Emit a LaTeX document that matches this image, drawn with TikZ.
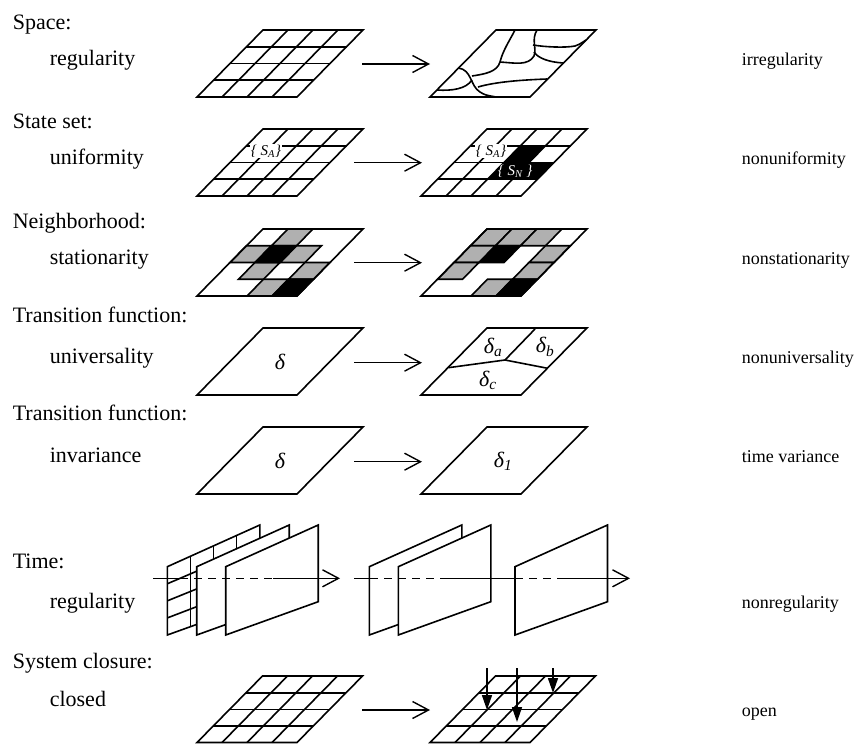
\documentclass[tikz,border=0pt]{standalone}
\usepackage{fontspec}
\setmainfont{Liberation Serif}
\usetikzlibrary{positioning,arrows.meta,calc}

\begin{document}
\begin{tikzpicture}[x=1pt, y=-1pt, line width=1.6pt,
  font=\fontsize{22}{26}\selectfont,
  title/.style={anchor=base west, inner sep=0pt},
  prop/.style={anchor=base west, inner sep=0pt},
  res/.style={anchor=base west, inner sep=0pt, font=\fontsize{18}{22}\selectfont},
  sheet/.style={xslant=0.985},
  gcell/.style={draw, fill=black!31},
  bcell/.style={draw, fill=black},
  frame/.style={draw, fill=white},
  go/.style={-{Straight Barb[length=16pt, width=17pt]}, line width=1.4pt},
  feed/.style={-{Triangle[length=15pt, width=10pt]}},
  sym/.style={inner sep=0pt, font=\fontsize{22}{26}\selectfont\itshape},
  tag/.style={inner sep=1pt, fill=white, font=\fontsize{15}{18}\selectfont\itshape}]

\useasboundingbox (0,0) rectangle (859,744);

% ---- space ----
\node[title] (space) at (12,29) {Space:};
\node[prop] (spreg) at (49,65) {regularity};
\node[res] (spirr) at (741,65) {irregularity};
\begin{scope}[shift={(197,97)}, sheet]
  \foreach \k in {1,2,3} {
    \draw (25*\k,0) -- (25*\k,-67);
    \draw (0,-16.75*\k) -- (100,-16.75*\k);
  }
  \draw (0,0) rectangle (100,-67);
\end{scope}
\draw[shift={(430,97)}, sheet] (0,0) rectangle (100,-67);
\draw (458.6,68) .. controls (472,70) and (470,86) .. (480,92) .. controls (485,95) .. (496,97);
\draw (437,90) .. controls (452,91) and (466,89) .. (472,80);
\draw (472,76) .. controls (485,74) and (497,72) .. (500,62) .. controls (503,50) and (510,40) .. (515,30);
\draw (500,62) .. controls (515,63) and (528,66) .. (534,56) .. controls (537,48) and (531,40) .. (537,30);
\draw (534,52) .. controls (538,58) and (548,62) .. (563,63);
\draw (533,45) .. controls (545,47) and (565,48) .. (575,46) .. controls (580,44) .. (586,40);
\draw (478,87) .. controls (495,82) and (520,80) .. (547,79);
\coordinate (sp0) at (362,64);
\coordinate (sp1) at (430,64);
\draw[go] (sp0) -- (sp1);

% ---- state set ----
\node[title] (stateset) at (12,128) {State set:};
\node[prop] (unif) at (49,164) {uniformity};
\node[res] (nonunif) at (741,164) {nonuniformity};
\begin{scope}[shift={(197,196)}, sheet]
  \foreach \k in {1,2,3} {
    \draw (25*\k,0) -- (25*\k,-67);
    \draw (0,-16.75*\k) -- (100,-16.75*\k);
  }
  \draw (0,0) rectangle (100,-67);
\end{scope}
\begin{scope}[shift={(421,196)}, sheet]
  \foreach \c/\r in {3/2,3/3,4/3}
    \fill (25*\c-25,16.75*\r-83.75) rectangle (25*\c,16.75*\r-67);
  \foreach \k in {1,2,3} {
    \draw (25*\k,0) -- (25*\k,-67);
    \draw (0,-16.75*\k) -- (100,-16.75*\k);
  }
  \draw (0,0) rectangle (100,-67);
\end{scope}
\node[tag] (sa) at (266,151) {\{ S\textsubscript{A}\}};
\node[tag] (sa2) at (491,151) {\{ S\textsubscript{A}\}};
\node[tag, fill=none, text=white] (sn) at (515,171) {\{ S\textsubscript{N} \}};
\coordinate (st0) at (354,162.7);
\coordinate (st1) at (422,162.7);
\draw[go] (st0) -- (st1);

% ---- neighborhood ----
\node[title] (neigh) at (12,228) {Neighborhood:};
\node[prop] (stat) at (49,264) {stationarity};
\node[res] (nonstat) at (741,264) {nonstationarity};
\begin{scope}[shift={(197,296)}, sheet]
  \foreach \c/\r in {2/1,1/2,3/2,2/3,4/3,3/4}
    \draw[gcell] (25*\c-25,16.75*\r-83.75) rectangle (25*\c,16.75*\r-67);
  \foreach \c/\r in {2/2,4/4}
    \draw[bcell] (25*\c-25,16.75*\r-83.75) rectangle (25*\c,16.75*\r-67);
  \draw (0,0) rectangle (100,-67);
\end{scope}
\begin{scope}[shift={(421,296)}, sheet]
  \foreach \c/\r in {1/1,2/1,3/1,1/2,4/2,1/3,4/3,3/4}
    \draw[gcell] (25*\c-25,16.75*\r-83.75) rectangle (25*\c,16.75*\r-67);
  \foreach \c/\r in {2/2,4/4}
    \draw[bcell] (25*\c-25,16.75*\r-83.75) rectangle (25*\c,16.75*\r-67);
  \draw (0,0) rectangle (100,-67);
\end{scope}
\coordinate (nb0) at (354,262.7);
\coordinate (nb1) at (422,262.7);
\draw[go] (nb0) -- (nb1);

% ---- transition function: universality ----
\node[title] (trans) at (12,322) {Transition function:};
\node[prop] (univ) at (49,363) {universality};
\node[res] (nonuniv) at (741,363) {nonuniversality};
\draw[shift={(197,395)}, sheet] (0,0) rectangle (100,-67);
\draw[shift={(421,395)}, sheet] (0,0) rectangle (100,-67);
\coordinate (mid) at (505,360);
\draw (448.3,367.7) -- (mid) -- (547.7,368.3);
\draw (mid) -- (535,329);
\node[sym] (d) at (280,362) {δ};
\node[sym] (da) at (493,347) {δ\textsubscript{a}};
\node[sym] (db) at (545,347) {δ\textsubscript{b}};
\node[sym] (dc) at (488,380) {δ\textsubscript{c}};
\coordinate (un0) at (354,362.7);
\coordinate (un1) at (422,362.7);
\draw[go] (un0) -- (un1);

% ---- transition function: invariance ----
\node[title] (trans2) at (12,420) {Transition function:};
\node[prop] (inv) at (49,462) {invariance};
\node[res] (tvar) at (741,462) {time variance};
\draw[shift={(197,494)}, sheet] (0,0) rectangle (100,-67);
\draw[shift={(421,494)}, sheet] (0,0) rectangle (100,-67);
\node[sym] (d2) at (280,461) {δ};
\node[sym] (d1) at (503,461) {δ\textsubscript{1}};
\coordinate (in0) at (354,461.7);
\coordinate (in1) at (422,461.7);
\draw[go] (in0) -- (in1);

% ---- time ----
\node[title] (time) at (12,568) {Time:};
\node[prop] (treg) at (49,608) {regularity};
\node[res] (tnonreg) at (741,608) {nonregularity};
\coordinate (f1a) at (167.3,635);
\coordinate (f1b) at (167.3,566.7);
\coordinate (f1c) at (259.8,525);
\coordinate (f1d) at (259.8,601.7);
\draw[frame] (f1a) -- (f1b) -- (f1c) -- (f1d) -- cycle;
\foreach \t in {0.25,0.5,0.75} {
  \draw ($(f1b)!\t!(f1c)$) -- ($(f1a)!\t!(f1d)$);
  \draw ($(f1a)!\t!(f1b)$) -- ($(f1d)!\t!(f1c)$);
}
\foreach \x in {196.7,225.7,369.3,398.3,515}
  \draw[frame] (\x,635) -- ++(0,-68.3) -- ++(92.5,-41.7) -- ++(0,76.7) -- cycle;
\coordinate (ta0) at (153,578.3);
\coordinate (ta1) at (180,578.3);
\coordinate (ta2) at (273,578.3);
\coordinate (ta3) at (340,578.3);
\draw[line width=1.4pt] (ta0) -- (ta1);
\draw[line width=1.4pt, dash pattern=on 8pt off 6pt] (ta1) -- (ta2);
\draw[go] (ta2) -- (ta3);
\coordinate (tb0) at (354,578.3);
\coordinate (tb1) at (370,578.3);
\coordinate (tb2) at (445,578.3);
\coordinate (tb3) at (515,578.3);
\coordinate (tb4) at (563,578.3);
\coordinate (tb5) at (630,578.3);
\draw[line width=1.4pt] (tb0) -- (tb1);
\draw[line width=1.4pt, dash pattern=on 8pt off 6pt] (tb1) -- (tb2);
\draw[line width=1.4pt] (tb2) -- (tb3);
\draw[line width=1.4pt, dash pattern=on 8pt off 6pt] (tb3) -- (tb4);
\draw[go] (tb4) -- (tb5);

% ---- system closure ----
\node[title] (closure) at (12,668) {System closure:};
\node[prop] (closed) at (49,706) {closed};
\node[res] (open) at (741,716) {open};
\begin{scope}[shift={(197,742.5)}, sheet]
  \foreach \k in {1,2,3} {
    \draw (25*\k,0) -- (25*\k,-66.5);
    \draw (0,-16.6*\k) -- (100,-16.6*\k);
  }
  \draw (0,0) rectangle (100,-66.5);
\end{scope}
\begin{scope}[shift={(430,742.5)}, sheet]
  \foreach \k in {1,2,3} {
    \draw (25*\k,0) -- (25*\k,-66.5);
    \draw (0,-16.6*\k) -- (100,-16.6*\k);
  }
  \draw (0,0) rectangle (100,-66.5);
\end{scope}
\coordinate (in1a) at (487,668);
\coordinate (in1b) at (487,710);
\coordinate (in2a) at (517,668);
\coordinate (in2b) at (517,722);
\coordinate (in3a) at (553,668);
\coordinate (in3b) at (553,693);
\draw[feed] (in1a) -- (in1b);
\draw[feed] (in2a) -- (in2b);
\draw[feed] (in3a) -- (in3b);
\coordinate (sc0) at (362,710);
\coordinate (sc1) at (430,710);
\draw[go] (sc0) -- (sc1);
\end{tikzpicture}
\end{document}
